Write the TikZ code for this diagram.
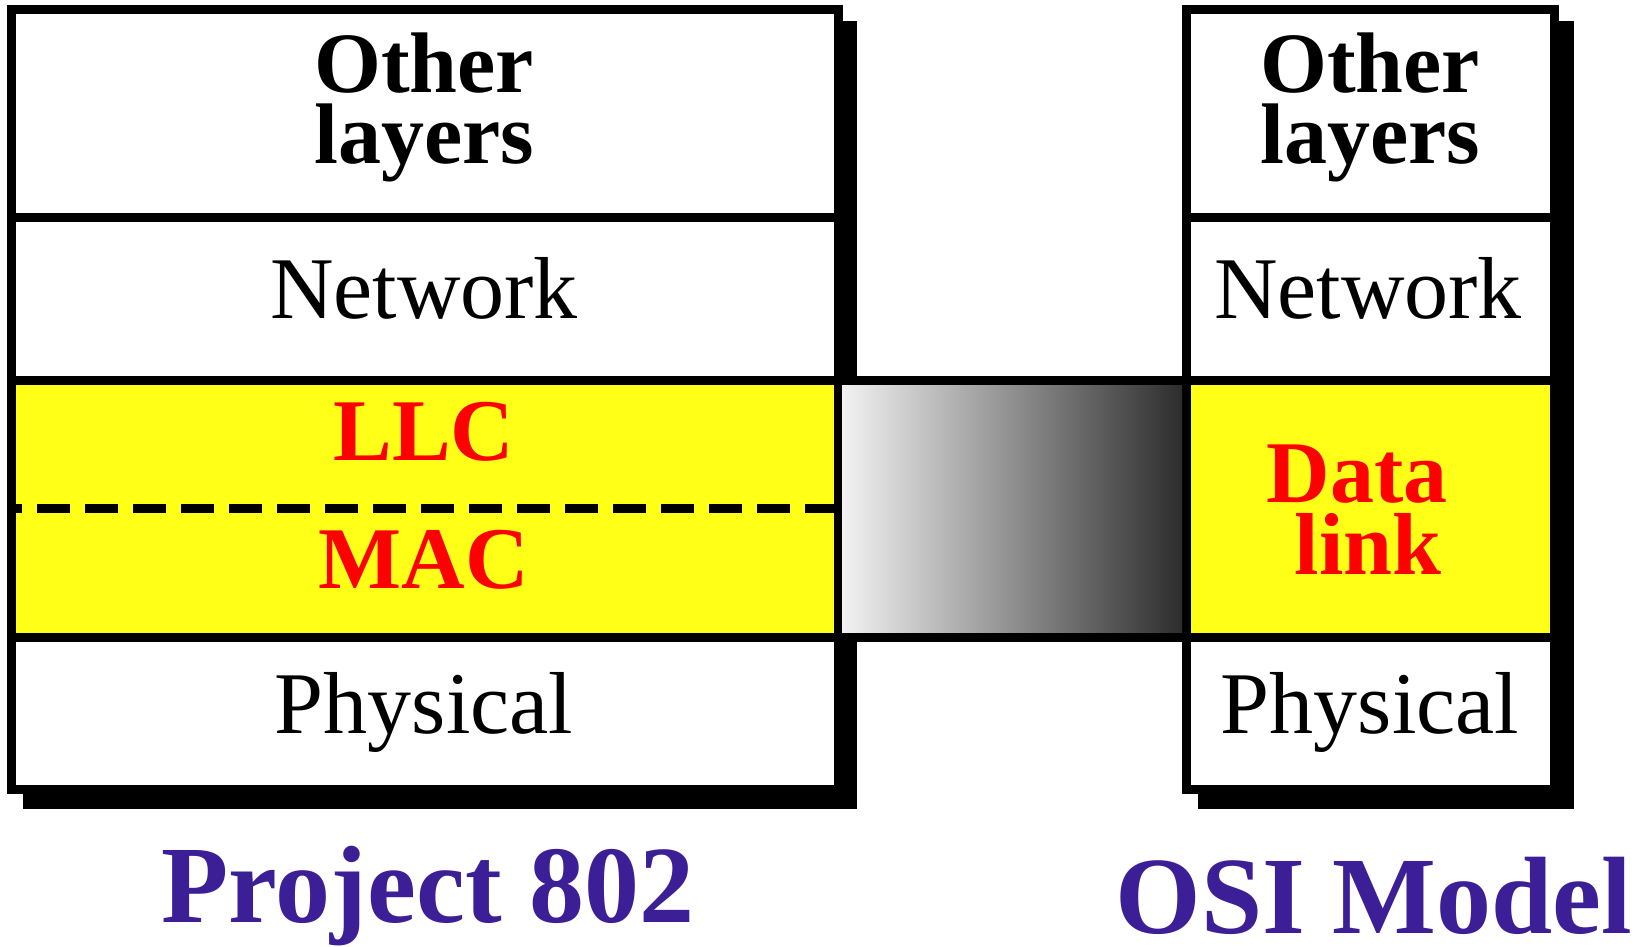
\documentclass[tikz,border=0pt]{standalone}
\usepackage{fontspec}
\setmainfont{Liberation Serif}
\definecolor{ylw}{RGB}{255,255,24}
\definecolor{purp}{RGB}{60,30,150}
\definecolor{lred}{RGB}{255,0,0}
\definecolor{gradL}{RGB}{242,242,242}
\definecolor{gradM}{RGB}{172,172,172}
\definecolor{gradR}{RGB}{45,45,45}
\begin{document}
\begin{tikzpicture}[x=1pt,y=-1pt,
  frame/.style={line width=9pt, line join=miter, draw=black},
  shadowbox/.style={fill=black},
  lbl/.style={anchor=base, inner sep=0pt, align=center},
  boldlbl/.style={lbl, font=\fontsize{88}{72}\selectfont\bfseries},
  reglbl/.style={lbl, font=\fontsize{88}{72}\selectfont},
  redlbl/.style={boldlbl, text=lred},
  titlelbl/.style={lbl, font=\fontsize{110}{110}\selectfont\bfseries, text=purp}]
\useasboundingbox (0,0) rectangle (1646,946);
\fill[white] (0,0) rectangle (1646,946);

% shadows
\fill[shadowbox] (23,21) rectangle (857,809);
\fill[shadowbox] (1198,21) rectangle (1574,809);

% left stack (Project 802)
\fill[white] (11,9) rectangle (838,789);
\fill[ylw] (11,380) rectangle (838,637);
\draw[frame] (11,9) rectangle (838,789);
\draw[frame] (11,217) -- (838,217);
\draw[frame] (11,380) -- (838,380);
\draw[frame] (11,637) -- (838,637);
\draw[line width=9pt, dash pattern=on 33pt off 15pt, dash phase=22pt] (11,508) -- (838,508);

% right stack (OSI model)
\fill[white] (1186,9) rectangle (1554,789);
\fill[ylw] (1186,380) rectangle (1554,637);
\draw[frame] (1186,9) rectangle (1554,789);
\draw[frame] (1186,217) -- (1554,217);
\draw[frame] (1186,380) -- (1554,380);
\draw[frame] (1186,637) -- (1554,637);

% gradient bridge
\shade[left color=gradL, middle color=gradM, right color=gradR] (842,384) rectangle (1182,633);
\draw[frame] (838,380) -- (1186,380);
\draw[frame] (838,637) -- (1186,637);

% left labels
\node[boldlbl, font=\fontsize{86}{71}\selectfont\bfseries] (lother) at (424,163) {Other\\layers};
\node[reglbl] (lnet) at (424,318) {Network};
\node[redlbl] (llc) at (424,460) {LLC};
\node[redlbl] (mac) at (424,588) {MAC};
\node[reglbl] (lphys) at (424,733) {Physical};

% right labels
\node[boldlbl, font=\fontsize{86}{71}\selectfont\bfseries] (rother) at (1370,163) {Other\\layers};
\node[reglbl] (rnet) at (1368,318) {Network};
\node[redlbl] (dlink) at (1368,574) {Data\kern0.25em\\link};
\node[reglbl] (rphys) at (1370,733) {Physical};

% titles
\node[titlelbl] (p802) at (428,922) {Project 802};
\node[titlelbl] (osi) at (1374,933) {OSI Model};
\end{tikzpicture}
\end{document}
